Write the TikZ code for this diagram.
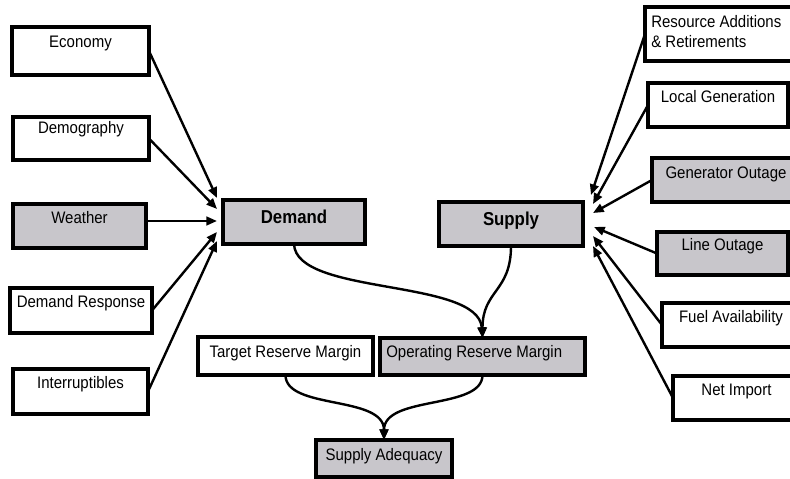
\documentclass[tikz,border=0pt]{standalone}
\usepackage{fontspec}
\setmainfont{Liberation Sans}[FakeStretch=0.9]
\usetikzlibrary{calc,arrows.meta}
\definecolor{boxgray}{RGB}{200,198,203}
\begin{document}
\begin{tikzpicture}[x=0.75pt,y=-0.75pt,
  box/.style={draw=black, line width=2.3pt, fill=white, inner sep=0pt, outer sep=0pt, rectangle},
  gbox/.style={box, fill=boxgray},
  bigbox/.style={gbox, line width=2.8pt},
  txt/.style={font=\fontsize{12.5pt}{15pt}\selectfont, inner sep=0pt},
  bigtxt/.style={font=\fontsize{14pt}{17pt}\selectfont\bfseries, inner sep=0pt},
  arr/.style={line width=1.8pt, -{Triangle[length=8pt,width=6.5pt]}},
]
\useasboundingbox (0,0) rectangle (790,479);

% left inputs
\node[box, minimum width=102.75pt, minimum height=36pt,
  label={[txt,anchor=base,yshift=-15pt]north:Economy}] (eco) at (80.5,51) {};
\node[box, minimum width=102pt, minimum height=32.25pt,
  label={[txt,anchor=base,yshift=-12pt]north:Demography}] (dem) at (81,138.5) {};
\node[gbox, minimum width=99.75pt, minimum height=33pt,
  label={[txt,anchor=base,yshift=-14.25pt]north:Weather}] (wea) at (79.5,226) {};
\node[box, minimum width=106.5pt, minimum height=33.75pt,
  label={[txt,anchor=base,yshift=-14.25pt]north:Demand Response}] (dr) at (81,310.5) {};
\node[box, minimum width=101.25pt, minimum height=33.75pt,
  label={[txt,anchor=base,yshift=-14.25pt]north:Interruptibles}] (int) at (80.5,391.5) {};

% centre
\node[bigbox, minimum width=106.5pt, minimum height=33pt,
  label={[bigtxt,anchor=base,yshift=-17.25pt]north:Demand}] (demand) at (294,222) {};
\node[bigbox, minimum width=108pt, minimum height=33pt,
  label={[bigtxt,anchor=base,yshift=-17.25pt]north:Supply}] (supply) at (511,224) {};
\node[box, minimum width=131.25pt, minimum height=28.5pt,
  label={[txt,anchor=base,yshift=-15pt]north:Target Reserve Margin}] (trm) at (285.5,356) {};
\node[gbox, minimum width=153.75pt, minimum height=27.75pt,
  label={[txt,anchor=base west,xshift=4.5pt,yshift=-14.25pt]north west:Operating Reserve Margin}] (orm) at (482.5,356.5) {};
\node[gbox, minimum width=102pt, minimum height=27.75pt,
  label={[txt,anchor=base,yshift=-15pt]north:Supply Adequacy}] (sa) at (384,458.5) {};

% right inputs
\node[box, minimum width=116.25pt, minimum height=40.5pt,
  label={[txt,anchor=base west,xshift=4.5pt,yshift=-15pt]north west:Resource Additions},
  label={[txt,anchor=base west,xshift=4.5pt,yshift=-30pt]north west:\& Retirements}] (res) at (722.5,34) {};
\node[box, minimum width=105pt, minimum height=33pt,
  label={[txt,anchor=base,yshift=-14.25pt]north:Local Generation}] (loc) at (718,105) {};
\node[gbox, minimum width=111pt, minimum height=33pt,
  label={[txt,anchor=base,yshift=-15pt]north:Generator Outage}] (gen) at (726,180) {};
\node[gbox, minimum width=98.25pt, minimum height=32.25pt,
  label={[txt,anchor=base,yshift=-13.5pt]north:Line Outage}] (lin) at (722.5,253.5) {};
\node[box, minimum width=103.5pt, minimum height=33pt,
  label={[txt,anchor=base,yshift=-14.25pt]north:Fuel Availability}] (fuel) at (731,325) {};
\node[box, minimum width=95.25pt, minimum height=33pt,
  label={[txt,anchor=base,yshift=-14.25pt]north:Net Import}] (net) at (736.5,398) {};

% arrows into Demand
\draw[arr] (eco.east) -- ($(demand.west)+(-6,-24)$);
\draw[arr] (dem.east) -- ($(demand.west)+(-6,-13)$);
\draw[arr] ($(wea.east)+(0,-5)$) -- ($(demand.west)+(-6,-1)$);
\draw[arr] (dr.east) -- ($(demand.west)+(-6,10)$);
\draw[arr] (int.east) -- ($(demand.west)+(-6,19)$);

% arrows into Supply
\draw[arr] (res.west) -- ($(supply.east)+(8,-29)$);
\draw[arr] (loc.west) -- ($(supply.east)+(10,-20)$);
\draw[arr] (gen.west) -- ($(supply.east)+(10,-11)$);
\draw[arr] (lin.west) -- ($(supply.east)+(11,3)$);
\draw[arr] (fuel.west) -- ($(supply.east)+(10,12)$);
\draw[arr] (net.west) -- ($(supply.east)+(10,22)$);

% curves
\draw[arr] (demand.south) .. controls ($(demand.south)+(2,52)$) and ($(orm.north)+(-4,-60)$) .. (orm.north);
\draw[arr] (supply.south) .. controls ($(supply.south)+(0,46)$) and ($(orm.north)+(0,-48)$) .. (orm.north);
\draw[arr] (trm.south) .. controls ($(trm.south)+(0,35)$) and ($(sa.north)+(0,-45)$) .. (sa.north);
\draw[arr] (orm.south) .. controls ($(orm.south)+(0,35)$) and ($(sa.north)+(0,-45)$) .. (sa.north);
\end{tikzpicture}
\end{document}
